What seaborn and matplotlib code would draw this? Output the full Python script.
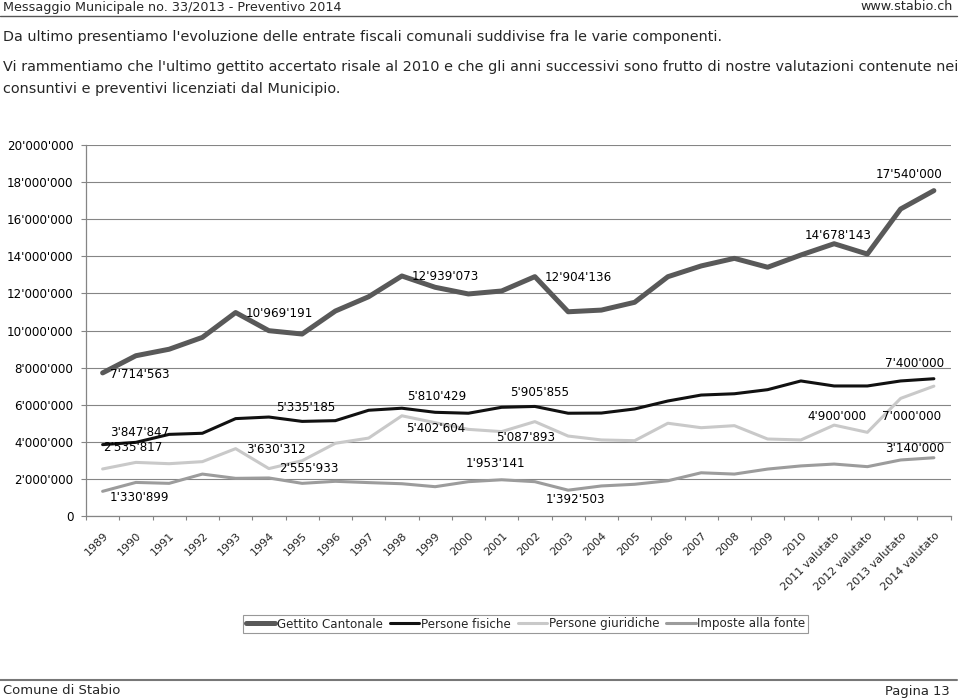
import numpy as np
import pandas as pd
import matplotlib
matplotlib.use("Agg")
import matplotlib.pyplot as plt
from matplotlib.lines import Line2D
from matplotlib.transforms import ScaledTranslation
import seaborn as sns

# ---------------- data ----------------
anni = ["1989", "1990", "1991", "1992", "1993", "1994", "1995", "1996", "1997",
        "1998", "1999", "2000", "2001", "2002", "2003", "2004", "2005", "2006",
        "2007", "2008", "2009", "2010", "2011 valutato", "2012 valutato",
        "2013 valutato", "2014 valutato"]

gettito_cantonale = [7714563, 8640000, 8990000, 9630000, 10969191, 9990000, 9810000,
                     11050000, 11820000, 12939073, 12330000, 11970000, 12130000,
                     12904136, 11010000, 11100000, 11520000, 12900000, 13480000,
                     13890000, 13410000, 14070000, 14678143, 14120000, 16550000, 17540000]
persone_fisiche = [3847847, 3970000, 4400000, 4460000, 5250000, 5335185, 5100000,
                   5140000, 5700000, 5810429, 5590000, 5540000, 5860000, 5905855,
                   5540000, 5550000, 5770000, 6200000, 6520000, 6590000, 6810000,
                   7280000, 7010000, 7010000, 7280000, 7400000]
persone_giuridiche = [2535817, 2890000, 2820000, 2930000, 3630312, 2555933, 2980000,
                      3920000, 4200000, 5402604, 5030000, 4670000, 4550000, 5087893,
                      4310000, 4100000, 4060000, 5000000, 4760000, 4870000, 4150000,
                      4100000, 4900000, 4510000, 6340000, 7000000]
imposte_fonte = [1330899, 1810000, 1760000, 2260000, 2030000, 2050000, 1760000,
                 1870000, 1800000, 1740000, 1580000, 1850000, 1953141, 1850000,
                 1392503, 1620000, 1710000, 1900000, 2330000, 2260000, 2530000,
                 2700000, 2800000, 2660000, 3020000, 3140000]

serie_nomi = ["Gettito Cantonale", "Persone fisiche", "Persone giuridiche", "Imposte alla fonte"]
y_ticks = [0, 2000000, 4000000, 6000000, 8000000, 10000000, 12000000,
           14000000, 16000000, 18000000, 20000000]

# labelled points: (series, year label, ha, dx px, dy px (up positive))
etichette = [
    ("Gettito Cantonale", "1989", "left", 7, -2),
    ("Gettito Cantonale", "1993", "left", 10, -1),
    ("Gettito Cantonale", "1998", "left", 10, -1),
    ("Gettito Cantonale", "2002", "left", 10, -1),
    ("Gettito Cantonale", "2011 valutato", "center", 4, 8),
    ("Gettito Cantonale", "2014 valutato", "center", -25, 16),
    ("Persone fisiche", "1989", "left", 7, 12),
    ("Persone fisiche", "1994", "left", 7, 10),
    ("Persone fisiche", "1998", "left", 5, 12),
    ("Persone fisiche", "2002", "center", 5, 14),
    ("Persone fisiche", "2014 valutato", "center", -19, 15),
    ("Persone giuridiche", "1989", "left", 0, 21),
    ("Persone giuridiche", "1993", "left", 10, -1),
    ("Persone giuridiche", "1994", "left", 10, 0),
    ("Persone giuridiche", "1998", "left", 4, -13),
    ("Persone giuridiche", "2002", "center", -9, -16),
    ("Persone giuridiche", "2011 valutato", "center", 3, 9),
    ("Persone giuridiche", "2014 valutato", "center", -22, -30),
    ("Imposte alla fonte", "1989", "left", 7, -6),
    ("Imposte alla fonte", "2001", "center", -6, 16),
    ("Imposte alla fonte", "2003", "center", 7, -9),
    ("Imposte alla fonte", "2014 valutato", "center", -19, 9),
]

# ---------------- styling ----------------
colori = {"Gettito Cantonale": "#595959", "Persone fisiche": "#111111",
          "Persone giuridiche": "#c9c9c9", "Imposte alla fonte": "#9c9c9c"}
spessori = {"Gettito Cantonale": 3.6, "Persone fisiche": 2.2,
            "Persone giuridiche": 2.2, "Imposte alla fonte": 2.2}

sns.set_style("white")
plt.rcParams["font.family"] = ["DejaVu Sans"]

W, H = 960, 699
fig = plt.figure(figsize=(W / 100, H / 100), dpi=100)
ax_l, ax_r, ax_t, ax_b = 86, 950.5, 145, 516
ax = fig.add_axes([ax_l / W, 1 - ax_b / H, (ax_r - ax_l) / W, (ax_b - ax_t) / H])

valori = {"Gettito Cantonale": gettito_cantonale, "Persone fisiche": persone_fisiche,
          "Persone giuridiche": persone_giuridiche, "Imposte alla fonte": imposte_fonte}
df = pd.concat([pd.DataFrame({"pos": np.arange(len(anni)), "anno": anni,
                              "valore": valori[s], "serie": s}) for s in serie_nomi],
               ignore_index=True)

sns.lineplot(data=df, x="pos", y="valore", hue="serie", size="serie",
             palette=colori, sizes=spessori, hue_order=serie_nomi,
             size_order=serie_nomi, legend=False, ax=ax, sort=False,
             solid_joinstyle="round")

grid_col = "#858585"
ax.set_xlim(-0.5, len(anni) - 0.5)
ax.set_ylim(0, 20000000)
ax.set_yticks(y_ticks)
ax.set_yticklabels([f"{v:,}".replace(",", "'") for v in y_ticks])
ax.yaxis.grid(True, color=grid_col, linewidth=0.8)
ax.xaxis.grid(False)
ax.set_axisbelow(True)
for s in ["top", "right"]:
    ax.spines[s].set_visible(False)
for s in ["left", "bottom"]:
    ax.spines[s].set_color(grid_col)
    ax.spines[s].set_linewidth(0.9)
ax.set_xlabel("")
ax.set_ylabel("")

ax.tick_params(axis="y", which="major", length=3.6, width=0.8, color=grid_col,
               direction="out", pad=5.5, labelsize=8.6, labelcolor="#000000", left=True)
ax.set_xticks(np.arange(len(anni)))
ax.set_xticklabels(anni, rotation=45, ha="right", va="center", rotation_mode="anchor",
                   fontsize=8.0)
ax.set_xticks(np.arange(-0.5, len(anni), 1), minor=True)
ax.tick_params(axis="x", which="major", length=0, pad=13, bottom=True)
ax.tick_params(axis="x", which="minor", length=3, width=0.8, color=grid_col,
               direction="out", bottom=True)
for lab in ax.get_xticklabels():
    lab.set_transform(lab.get_transform() + ScaledTranslation(4 / 100, 0, fig.dpi_scale_trans))

# data labels
for serie, anno, ha, dx, dy in etichette:
    i = anni.index(anno)
    v = valori[serie][i]
    ax.annotate(f"{v:,}".replace(",", "'"), (i, v), xytext=(dx, dy),
                textcoords="offset pixels", ha=ha, va="center", fontsize=8.6,
                color="#000000")

# legend
handles = [Line2D([0], [0], color=colori[s], lw=spessori[s]) for s in serie_nomi]
leg = fig.legend(handles, serie_nomi, loc="center",
                 bbox_to_anchor=(525.5 / W, 1 - 624 / H), ncol=4, frameon=True,
                 fancybox=False, edgecolor="#7f7f7f", fontsize=8.6,
                 handlelength=2.5, handletextpad=0.1, columnspacing=0.6,
                 borderpad=0.25, borderaxespad=0)
leg.get_frame().set_linewidth(0.8)

# page text
renderer = fig.canvas.get_renderer()


def fit_text(x_px, y_px, s, width_px, ha="left", base=10):
    t = fig.text(x_px / W, 1 - y_px / H, s, ha=ha, va="center", fontsize=base)
    w = t.get_window_extent(renderer).width
    t.set_fontsize(base * width_px / w)
    return t.get_fontsize()


hdr = fit_text(3, 7, "Messaggio Municipale no. 33/2013 - Preventivo 2014", 337)
fig.text(953 / W, 1 - 7 / H, "www.stabio.ch", ha="right", va="center", fontsize=hdr)
fig.add_artist(Line2D([0, 957 / W], [1 - 15.5 / H] * 2, color="#555555", lw=1.0))

par = fit_text(3, 67, "Vi rammentiamo che l'ultimo gettito accertato risale al 2010 e che gli anni "
               "successivi sono frutto di nostre valutazioni contenute nei", 954)
fig.text(3 / W, 1 - 37.5 / H, "Da ultimo presentiamo l'evoluzione delle entrate fiscali "
         "comunali suddivise fra le varie componenti.", ha="left", va="center", fontsize=par)
fig.text(3 / W, 1 - 88.5 / H, "consuntivi e preventivi licenziati dal Municipio.",
         ha="left", va="center", fontsize=par)

fig.add_artist(Line2D([0, 957 / W], [1 - 680 / H] * 2, color="#777777", lw=1.5))
ft = fit_text(3, 691, "Comune di Stabio", 117)
fig.text(950 / W, 1 - 691 / H, "Pagina 13", ha="right", va="center", fontsize=ft)

fig.savefig("out.png", dpi=100)
